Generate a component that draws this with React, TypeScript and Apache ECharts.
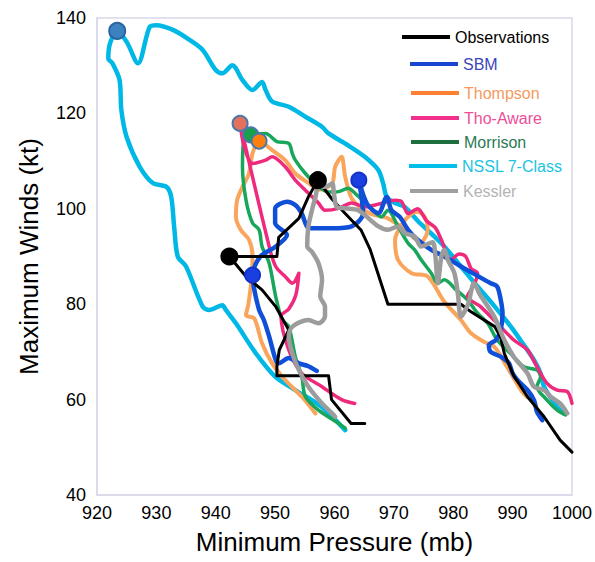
import React, { useEffect, useRef } from "react";
import * as echarts from "echarts";

const X_MIN = 920, X_MAX = 1000, X_STEP = 10;
const Y_MIN = 40, Y_MAX = 140, Y_STEP = 20;

const seriesNames = ["Observations", "SBM", "Thompson", "Tho-Aware", "Morrison", "NSSL 7-Class", "Kessler"];

const obsPath = [
  [965.1, 55], [962.8, 55], [959.5, 60], [959, 65], [950.3, 65], [950.3, 67], [950.7, 70.4], [952.3, 74.6],
  [950.1, 79.5], [947.8, 83], [945.1, 85.8], [942.3, 90], [950.3, 90], [950.6, 94], [954, 98], [955.6, 102.5],
  [957.2, 106], [959.6, 102], [961.8, 99], [964.5, 95.5], [966, 91.5], [969, 80], [981.3, 80], [983, 78.4],
  [985.2, 76.7], [987, 75.3], [988, 73], [988.6, 69.7], [990.2, 65], [992.5, 60.6], [995.3, 56.4], [998, 51.5], [1000, 49],
];
const sbmPath = [
  [957, 66], [955.6, 67], [954, 67.6], [952.3, 68.7], [950.6, 67.6], [950.1, 68.3], [949, 73.2], [948.1, 76.7],
  [947.3, 78.8], [946.4, 83.7], [946.2, 86.1], [947.5, 90], [950, 92], [952, 94.5], [950, 97], [950, 100],
  [952, 101.5], [953.4, 100.8], [954.5, 99], [955.6, 96], [957.3, 95.9], [959.6, 95.9], [962.9, 96.3], [964.8, 99],
  [964.1, 106], [965.5, 101], [967.4, 99.1], [968.8, 102.5], [969.6, 99.7], [971, 98.3], [972.4, 95.6], [974, 93.5],
  [976.3, 91.4], [978.5, 90], [981.3, 87.9], [984, 86], [986.3, 84.4], [987.4, 83.7], [988, 80.9], [988.3, 78.1],
  [988, 74.6], [987.2, 72.5], [986, 71.4], [986.3, 70], [988, 69], [989.4, 67.6], [990, 65.5], [990.8, 64.1],
  [992.5, 62], [993.6, 59.9], [994.1, 57.5], [995, 55.7],
];
const thompsonPath = [
  [992.5, 60.5], [991.4, 62], [989, 67], [986.9, 71.1], [985.2, 72.1], [983, 73.9], [981.3, 76.7], [978.5, 80.5],
  [975.7, 85.8], [973, 86.5], [970.7, 89.3], [970.2, 93.5], [971.5, 97], [973, 99], [974, 99.4], [975.2, 98.3],
  [975.7, 95.6], [974.5, 93], [972, 95.5], [969, 98], [966, 99], [963, 102], [961.8, 106.7], [961.2, 110.9],
  [960.1, 108.8], [959.6, 105.3], [957.5, 104], [955.5, 105.5], [953.4, 107.4], [951.7, 110.2], [949.5, 112.3],
  [947.3, 114.2], [946.2, 111.6], [945.6, 107.4], [944.5, 104.6], [943.6, 101.8], [943.4, 98.3], [944.2, 95.6],
  [945.6, 93.5], [946.2, 90], [946, 85], [945.5, 80], [945.1, 77.7], [946.5, 77], [947.8, 71.8], [949.5, 67.6],
  [951.7, 64.1], [954.5, 60.6], [956.8, 57.1],
];
const thoAwarePath = [
  [963.4, 59.2], [961.2, 60], [957.9, 62.7], [954.5, 65.5], [952.3, 70.4], [951, 77.5], [952.3, 79], [953.5, 82],
  [954, 86.5], [952.9, 84.4], [951.7, 85.8], [950.1, 87.9], [949, 92.1], [944.1, 117.9], [944.8, 113], [946.2, 109.5],
  [948.4, 110.2], [949.5, 110.9], [951.7, 108.8], [953.4, 106], [955.1, 103.9], [957.3, 101.2], [958.4, 99.7],
  [960.7, 100.1], [962.9, 101.2], [965.1, 100.4], [967.5, 101], [970.2, 101.8], [971.3, 101.5], [972.4, 99],
  [974, 100], [975.5, 97.5], [977, 96], [978, 93.5], [979.6, 89.3], [981, 90.5], [982.1, 90], [983, 87.5],
  [984.1, 86.5], [983.5, 84], [982.4, 81.6], [984.6, 79.5], [987.4, 76], [990.2, 72.5], [992.5, 70.4], [994.1, 66.9],
  [995.8, 63.4], [997.5, 62], [999.2, 61.7], [1000, 59.2],
];
const morrisonPath = [
  [961.8, 54], [960.7, 55], [957.3, 57.8], [955.1, 60.6], [954.5, 64.8], [953.4, 69], [952.3, 75.3], [951.2, 76.7],
  [950.1, 81.6], [949, 88.6], [947.8, 92.1], [947.3, 95.6], [946.2, 97], [945.1, 101.8], [944.5, 108.8], [944.8, 115.1],
  [945.9, 115.5], [948.4, 115.8], [950.3, 114.1], [952.3, 113.7], [952.9, 111.6], [953.4, 110.2], [955.1, 107.4],
  [957, 105], [959, 103.5], [960.7, 103.6], [962.3, 104.3], [963.5, 103.2], [965.5, 101], [967.9, 98.3], [969, 99.7],
  [970.7, 96.3], [972.4, 92.8], [973.5, 91.4], [974.6, 89.3], [976.3, 86.5], [977.4, 84.4], [978.5, 85.1], [980.5, 83],
  [982.4, 80.9], [984.1, 78.1], [985.8, 76], [987.4, 72.5], [989.6, 69.7], [991.9, 66.9], [994.1, 66.2], [994.7, 64.8],
  [994.1, 62.7], [995.8, 59.9], [997.5, 57.8], [998.9, 56.8],
];
const nsslPath = [
  [998.6, 57.1], [997.5, 58.5], [995.3, 62.7], [994.7, 65.5], [993.6, 68.3], [991.3, 72.5], [989.7, 75.3], [987, 79.5],
  [984.1, 83.7], [981.3, 87.9], [978.5, 92.1], [976.8, 94.2], [974, 97.5], [971.8, 100.4], [970.2, 101.2], [968.8, 102.5],
  [968.2, 105.3], [967.4, 108.1], [965.1, 110.9], [962.3, 113.3], [959, 115.8], [957.9, 117.2], [955.1, 119.3],
  [952.3, 121.4], [949.5, 122.5], [948.4, 124.9], [947.8, 126.6], [946.2, 124.9], [944.5, 127], [942.8, 130.1],
  [941.1, 128.4], [940, 129.1], [937.8, 133.3], [935.6, 135.4], [932.8, 137.5], [930, 138.5], [928.9, 138.2],
  [926.9, 130.5], [925, 135], [923.4, 137.3], [922.2, 134.7], [921.9, 131.5], [922.6, 130.5], [923.8, 127],
  [924.1, 120.7], [925, 115], [927.2, 108.8], [929.4, 105.4], [931.7, 104.6], [932.5, 102.5], [933, 96.2], [933.6, 90],
  [935, 87.9], [937.8, 79.5], [938.9, 78.8], [941.1, 79.8], [941.7, 78.8], [943.4, 76], [946.7, 69.8], [950, 64.8],
  [953.4, 62], [957.8, 58.5], [961.8, 53.6],
];
const kesslerPath = [
  [999.2, 57.1], [998, 59.2], [996.4, 60.6], [995.3, 62], [993.6, 62.7], [992.5, 65.5], [990.2, 69], [988.6, 72.5],
  [986.9, 77.4], [984.5, 82], [983.5, 84.4], [982.5, 80], [981.3, 77.4], [980.8, 82], [980.2, 86.5], [979.1, 89.3],
  [978.5, 91.4], [978, 90], [977.4, 84.4], [977, 90], [976.5, 93], [974.6, 92.1], [973.5, 94.2], [971.8, 94.9],
  [970.7, 96.3], [969, 95.6], [967.4, 96.3], [964, 99.7], [961.8, 100.1], [960.4, 100.4], [959.9, 103.2], [959.6, 105.3],
  [958.4, 104.6], [957.3, 104.6], [956.8, 102.5], [956.2, 99.7], [955.6, 96.3], [955.4, 92.1], [956.2, 91], [957.3, 88.6],
  [957.9, 85.1], [957.6, 81.6], [958.4, 79.5], [958.4, 77.4], [957.3, 76], [955.6, 76.7], [952.9, 75.3], [952.3, 73.2],
  [952.9, 69.7], [954, 66.2], [955.6, 62.7], [957.9, 59.2], [959.6, 57.1], [960.1, 56.4],
];

const obsMarks = [[942.3, 90], [957.2, 106]];
const sbmMarks = [[946.2, 86.1], [964.1, 106]];
const nsslMarks = [[923.4, 137.3]];
const thoAwareMarks = [[944.1, 117.9]];
const morrisonMarks = [[945.9, 115.5]];
const thompsonMarks = [[947.3, 114.2]];

const FONT = "'Liberation Sans', Arial, Helvetica, sans-serif";

export default function App() {
  const ref = useRef<HTMLDivElement>(null);
  useEffect(() => {
    document.body.style.margin = "0";
    const chart = echarts.init(ref.current!, null, { renderer: "svg" });

    const lineSeries = (name: string, data: number[][], color: string, width: number, z: number, smooth: number | boolean = 0.3) => ({
      type: "line",
      name,
      data,
      symbol: "none",
      smooth,
      z,
      itemStyle: { color },
      lineStyle: { color, width, cap: "round", join: "round" },
    });
    const markSeries = (name: string, data: number[][], fill: string, border: string, size: number, z: number) => ({
      type: "scatter",
      name,
      data,
      symbol: "circle",
      symbolSize: size,
      z,
      itemStyle: { color: fill, borderColor: border, borderWidth: 2, opacity: 1 },
    });

    const legendInfo = [
      { left: 402, top: 29, icon: "#000000", text: "#000000" },
      { left: 410, top: 56, icon: "#1846d0", text: "#3d45b8" },
      { left: 411, top: 85, icon: "#ff8030", text: "#f39a5e" },
      { left: 411, top: 110, icon: "#f0308a", text: "#ec4f98" },
      { left: 411, top: 134, icon: "#1e6e3e", text: "#2b7a55" },
      { left: 409, top: 158, icon: "#00c0ea", text: "#1cc3e3" },
      { left: 410, top: 183, icon: "#a0a0a0", text: "#b3b3b3" },
    ];

    chart.setOption({
      animation: false,
      backgroundColor: "#ffffff",
      textStyle: { fontFamily: FONT },
      grid: {
        left: 97, right: 20, top: 18, bottom: 67,
        show: true, borderColor: "#d9d9ea", borderWidth: 1.5, backgroundColor: "transparent",
      },
      legend: seriesNames.map((n, i) => ({
        data: [{ name: n, itemStyle: { color: legendInfo[i].icon }, textStyle: { color: legendInfo[i].text } }],
        left: legendInfo[i].left,
        top: legendInfo[i].top,
        orient: "vertical",
        icon: "rect",
        itemWidth: 48,
        itemHeight: 4,
        padding: 0,
        selectedMode: false,
        textStyle: { fontSize: 16, fontFamily: FONT, lineHeight: 16 },
      })),
      xAxis: {
        type: "value",
        min: X_MIN, max: X_MAX, interval: X_STEP,
        name: "Minimum Pressure (mb)",
        nameLocation: "middle",
        nameGap: 34,
        nameTextStyle: { fontSize: 26, color: "#000", fontFamily: FONT },
        axisLine: { show: true, lineStyle: { color: "#d9d9ea", width: 1.5 } },
        axisTick: { show: false },
        splitLine: { show: false },
        axisLabel: { fontSize: 18, color: "#000", margin: 9, fontFamily: FONT, formatter: (v: number) => String(v) },
      },
      yAxis: {
        type: "value",
        min: Y_MIN, max: Y_MAX, interval: Y_STEP,
        name: "Maximum Winds (kt)",
        nameLocation: "middle",
        nameGap: 55,
        nameTextStyle: { fontSize: 26, color: "#000", fontFamily: FONT },
        axisLine: { show: true, lineStyle: { color: "#d9d9ea", width: 1.5 } },
        axisTick: { show: false },
        splitLine: { show: false },
        axisLabel: { fontSize: 18, color: "#000", margin: 11, fontFamily: FONT, formatter: (v: number) => String(v) },
      },
      series: [
        lineSeries("NSSL 7-Class", nsslPath, "#00b8e6", 4.5, 1),
        lineSeries("Thompson", thompsonPath, "#f9a55c", 4, 2),
        lineSeries("Morrison", morrisonPath, "#17a65a", 3.5, 3),
        lineSeries("Tho-Aware", thoAwarePath, "#ef2a7c", 3.5, 4),
        lineSeries("SBM", sbmPath, "#1050d8", 4.5, 5),
        lineSeries("Observations", obsPath, "#000000", 3, 6, false),
        lineSeries("Kessler", kesslerPath, "#9c9c9c", 4.5, 7),
        markSeries("nsslMarks", nsslMarks, "#3c82c0", "#2a65a0", 16, 10),
        markSeries("thoAwareMarks", thoAwareMarks, "#e4705e", "#4a78a8", 15, 10),
        markSeries("morrisonMarks", morrisonMarks, "#16a04a", "#4a78a8", 15, 11),
        markSeries("thompsonMarks", thompsonMarks, "#ff7f0e", "#4a78a8", 15, 12),
        markSeries("obsMarks", obsMarks, "#000000", "#000000", 16, 13),
        markSeries("sbmMarks", sbmMarks, "#1a3fe0", "#1434c8", 15, 13),
      ],
    });
    return () => chart.dispose();
  }, []);
  return <div ref={ref} style={{ width: 595, height: 562 }} />;
}
